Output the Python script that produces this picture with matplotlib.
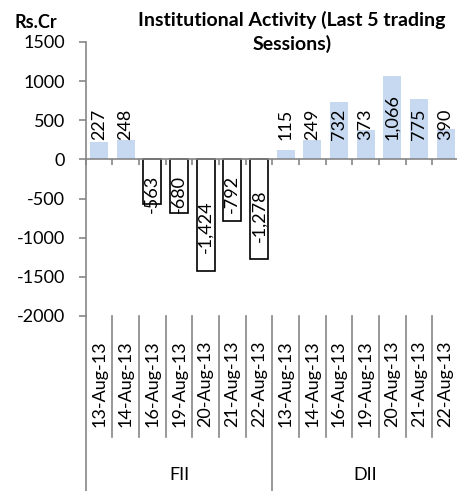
import matplotlib.pyplot as plt
import matplotlib.transforms as transforms
from matplotlib.lines import Line2D

plt.rcParams['font.family'] = ['Lato', 'DejaVu Sans']
plt.rcParams['axes.unicode_minus'] = False

dates = ['13-Aug-13', '14-Aug-13', '16-Aug-13', '19-Aug-13',
         '20-Aug-13', '21-Aug-13', '22-Aug-13']
groups = ['FII', 'DII']
fii = [227, 248, -563, -680, -1424, -792, -1278]
dii = [115, 249, 732, 373, 1066, 775, 390]
yticks = [-2000, -1500, -1000, -500, 0, 500, 1000, 1500]

values = fii + dii
labels = dates + dates
n = len(values)

blue = '#c6d9f1'
grey = '#868686'

fig = plt.figure(figsize=(4.57, 4.91), dpi=100)
ax = fig.add_axes([85.7 / 457, 1 - 316 / 491, 373.3 / 457, 274 / 491])

# FII negatives drawn as white boxes with black outline (inverted fill)
for i, v in enumerate(values):
    if v < 0:
        ax.bar(i, v, width=0.68, color='white', edgecolor='black', linewidth=1.2, zorder=2)
    else:
        ax.bar(i, v, width=0.68, color=blue, edgecolor='none', zorder=2)

# value labels, rotated
for i, v in enumerate(values):
    txt = f'{v:,}'
    if v >= 0:
        ax.text(i, 245, txt, rotation=90, ha='center', va='bottom', fontsize=13, zorder=3)
    else:
        ax.text(i, min(v + 900, -200), txt, rotation=90, ha='center', va='top',
                fontsize=13, zorder=3)

ax.set_xlim(-0.5, n - 0.5)
ax.set_ylim(-2000, 1500)
ax.set_yticks(yticks)
ax.set_yticklabels([str(t) for t in yticks], fontsize=13)
ax.tick_params(axis='y', direction='out', length=5, color=grey, width=1.2, pad=10)

for s in ['top', 'right']:
    ax.spines[s].set_visible(False)
ax.spines['bottom'].set_position(('data', 0))
ax.spines['bottom'].set_color(grey)
ax.spines['bottom'].set_linewidth(1.2)
ax.spines['left'].set_color(grey)
ax.spines['left'].set_linewidth(1.2)

ax.set_xticks([x - 0.5 for x in range(n + 1)])
ax.set_xticklabels([])
ax.tick_params(axis='x', direction='out', length=4.5, color=grey, width=1.2)

# multi-level category labels under the plot area
trans = transforms.blended_transform_factory(ax.transData, ax.transAxes)
for i, lab in enumerate(labels):
    ax.text(i, -0.248, lab, rotation=90, ha='center', va='center', fontsize=13,
            transform=trans, clip_on=False)
for b in range(n + 1):
    bottom = -0.64 if b % 7 == 0 else -0.4416
    ax.add_line(Line2D([b - 0.5, b - 0.5], [0, bottom], transform=trans,
                       color=grey, linewidth=1.2, clip_on=False))
for g, name in enumerate(groups):
    ax.text(g * 7 + 3, -0.58, name, ha='center', va='center', fontsize=13,
            transform=trans, clip_on=False)

fig.text(292 / 457, 1 - 32 / 491, 'Institutional Activity (Last 5 trading\nSessions)',
         ha='center', va='center', fontsize=14, fontweight='bold', linespacing=1.45)
fig.text(15 / 457, 1 - 22 / 491, 'Rs.Cr', ha='left', va='center', fontsize=13,
         fontweight='bold')

fig.savefig('out.png', dpi=100)
